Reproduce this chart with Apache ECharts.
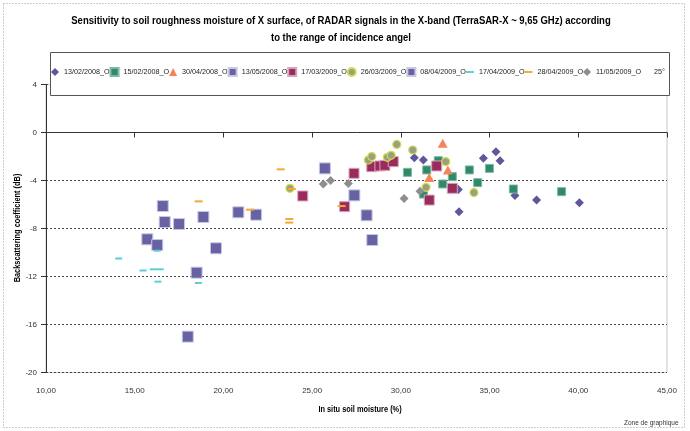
<!DOCTYPE html>
<html>
<head>
<meta charset="utf-8">
<script src="https://cdn.jsdelivr.net/npm/echarts@6/dist/echarts.min.js"></script>
<style>
  html, body { margin: 0; padding: 0; background: #fff; }
  #chart { width: 690px; height: 431px; }
</style>
</head>
<body>
<div id="chart"></div>
<script>
// values: [soil moisture %, backscatter dB]
const s130208 = [[30.76, -2.1], [31.27, -2.3], [33.24, -4.74], [33.28, -6.6], [34.65, -2.15], [35.36, -1.6], [35.59, -2.35], [36.43, -5.26], [37.65, -5.63], [40.06, -5.85]];
const s150208 = [[30.37, -3.32], [31.27, -5.13], [31.46, -3.12], [32.11, -2.35], [32.36, -4.29], [32.9, -3.68], [33.86, -3.12], [34.33, -4.18], [34.99, -2.99], [36.34, -4.71], [39.06, -4.93]];
const s300408 = [[32.36, -0.9], [32.65, -3.12], [31.6, -3.74]];
const s130508 = [[15.71, -8.9], [16.27, -9.38], [16.58, -6.13], [16.69, -7.46], [17.5, -7.63], [17.99, -17.01], [18.49, -11.68], [18.87, -7.04], [19.58, -9.65]];
const s170309 = [[24.47, -5.29], [27.36, -3.4], [26.83, -6.18], [28.36, -2.85], [28.82, -2.79], [29.1, -2.74], [29.57, -2.43], [32.02, -2.79], [32.9, -4.65], [31.6, -5.63]];
const s260309 = [[23.75, -4.65], [28.17, -2.29], [28.36, -2.01], [29.24, -2.07], [29.45, -1.9], [29.77, -0.99], [30.67, -1.46], [31.42, -4.57], [32.53, -2.43], [34.12, -5.01]];
const s080409 = [[20.84, -6.65], [21.84, -6.85], [25.72, -2.99], [27.38, -5.24], [28.07, -6.9], [28.39, -8.96]];
const s170409 = [[14.1, -10.5], [15.47, -11.5], [16.05, -11.4], [16.44, -11.4], [16.27, -9.85], [16.31, -12.43], [18.59, -12.54]];
const s280409 = [[18.6, -5.74], [21.5, -6.43], [23.23, -3.07], [23.85, -4.71], [23.71, -7.21], [23.71, -7.51], [26.66, -6.13]];
const s110509 = [[25.63, -4.29], [26.04, -4.01], [27.04, -4.24], [30.18, -5.51], [31.08, -4.9]];

const seriesNames = ['13/02/2008_O', '15/02/2008_O', '30/04/2008_O', '13/05/2008_O', '17/03/2009_O',
  '26/03/2009_O', '08/04/2009_O', '17/04/2009_O', '28/04/2009_O', '11/05/2009_O', '25°'];

const titleLines = ['Sensitivity to soil roughness moisture of X surface, of RADAR signals in the X-band (TerraSAR-X ~ 9,65 GHz) according',
  'to the range of incidence angel'];
const xName = 'In situ soil moisture (%)';
const yName = 'Backscattering coefficient (dB)';

const sans = "'Liberation Sans', Arial, sans-serif";
const dash = 'path://M0,0H10V2.4H0Z';
const narrowScale = 0.82; // fake Arial Narrow by squeezing Liberation Sans

const chart = echarts.init(document.getElementById('chart'));

function scatter(name, data, symbol, size, color, border, borderWidth) {
  return {
    name: name,
    type: 'scatter',
    data: data,
    symbol: symbol,
    symbolSize: size,
    itemStyle: { color: color, borderColor: border || color, borderWidth: borderWidth || 0, opacity: 1 },
    emphasis: { disabled: true }
  };
}

function narrowText(text, x, y, size, rotation) {
  return {
    type: 'text', z: 50, silent: true,
    x: x, y: y, rotation: rotation || 0, scaleX: narrowScale,
    style: {
      text: text, fill: '#000', fontFamily: sans, fontSize: size, fontWeight: 'bold',
      textAlign: 'center', textVerticalAlign: 'middle'
    }
  };
}

chart.setOption({
  animation: false,
  backgroundColor: '#fff',
  graphic: [
    {
      type: 'rect', z: 0, silent: true,
      shape: { x: 3.5, y: 3.5, width: 681, height: 424 },
      style: { fill: 'none', stroke: '#9a9a9a', lineWidth: 1, lineDash: [1, 2] }
    },
    {
      type: 'rect', z: 50, silent: true,
      shape: { x: 50.5, y: 52.5, width: 619, height: 43 },
      style: { fill: '#fff', stroke: '#555', lineWidth: 1 }
    },
    narrowText(titleLines[0], 341, 21, 11.6),
    narrowText(titleLines[1], 341, 38, 11.6),
    narrowText(xName, 360, 410, 9),
    narrowText(yName, 18, 228, 9, Math.PI / 2),
    {
      type: 'text', z: 50, silent: true,
      left: 624, top: 420,
      style: { text: 'Zone de graphique', fill: '#333', fontSize: 6.5, fontFamily: sans, backgroundColor: '#fff' }
    }
  ],
  legend: {
    data: seriesNames,
    left: 51,
    top: 67,
    width: 636,
    z: 60,
    padding: 0,
    itemGap: 0,
    itemWidth: 8,
    itemHeight: 8,
    selectedMode: false,
    textStyle: { fontFamily: sans, fontSize: 7.2, color: '#222' }
  },
  grid: {
    left: 46, right: 23, top: 84.5, bottom: 58.5,
    show: true, borderColor: '#c8c8c8', borderWidth: 1, backgroundColor: '#fff'
  },
  xAxis: {
    type: 'value',
    min: 10, max: 45, interval: 5,
    axisLine: { show: true, lineStyle: { color: '#333', width: 1 } },
    axisTick: { show: true, length: 5, lineStyle: { color: '#333' } },
    axisLabel: {
      margin: 14, fontSize: 8, color: '#333', fontFamily: sans,
      formatter: v => v.toFixed(2).replace('.', ',')
    },
    splitLine: { show: false }
  },
  yAxis: {
    type: 'value',
    min: -20, max: 4, interval: 4,
    axisLine: { show: true, lineStyle: { color: '#333', width: 1 } },
    axisTick: { show: true, length: 5, lineStyle: { color: '#333' } },
    axisLabel: { margin: 9, fontSize: 8, color: '#333', fontFamily: sans },
    splitLine: { show: true, lineStyle: { color: '#444', type: [2, 2], width: 1 } }
  },
  series: [
    scatter(seriesNames[0], s130208, 'diamond', [9, 9], '#5d589c'),
    scatter(seriesNames[1], s150208, 'rect', [8, 8], '#2f8a69', '#7fb8a2', 1),
    scatter(seriesNames[2], s300408, 'triangle', [10, 9], '#f7835a'),
    scatter(seriesNames[3], s130508, 'rect', [11, 11], '#6762a3', '#c9c7e2', 1),
    scatter(seriesNames[4], s170309, 'rect', [10, 10], '#992c5c', '#d8a3bb', 1),
    scatter(seriesNames[5], s260309, 'circle', [8, 8], '#9d9d82', '#cfdd4e', 1.2),
    scatter(seriesNames[6], s080409, 'rect', [11, 11], '#6762a3', '#c9c7e2', 1),
    scatter(seriesNames[7], s170409, dash, [7, 2], '#5ccfd3'),
    scatter(seriesNames[8], s280409, dash, [8, 2], '#f4a834'),
    scatter(seriesNames[9], s110509, 'diamond', [9, 9], '#8e8e8e'),
    scatter(seriesNames[10], [], 'rect', [8, 8], 'rgba(0,0,0,0)')
  ]
});
</script>
</body>
</html>
